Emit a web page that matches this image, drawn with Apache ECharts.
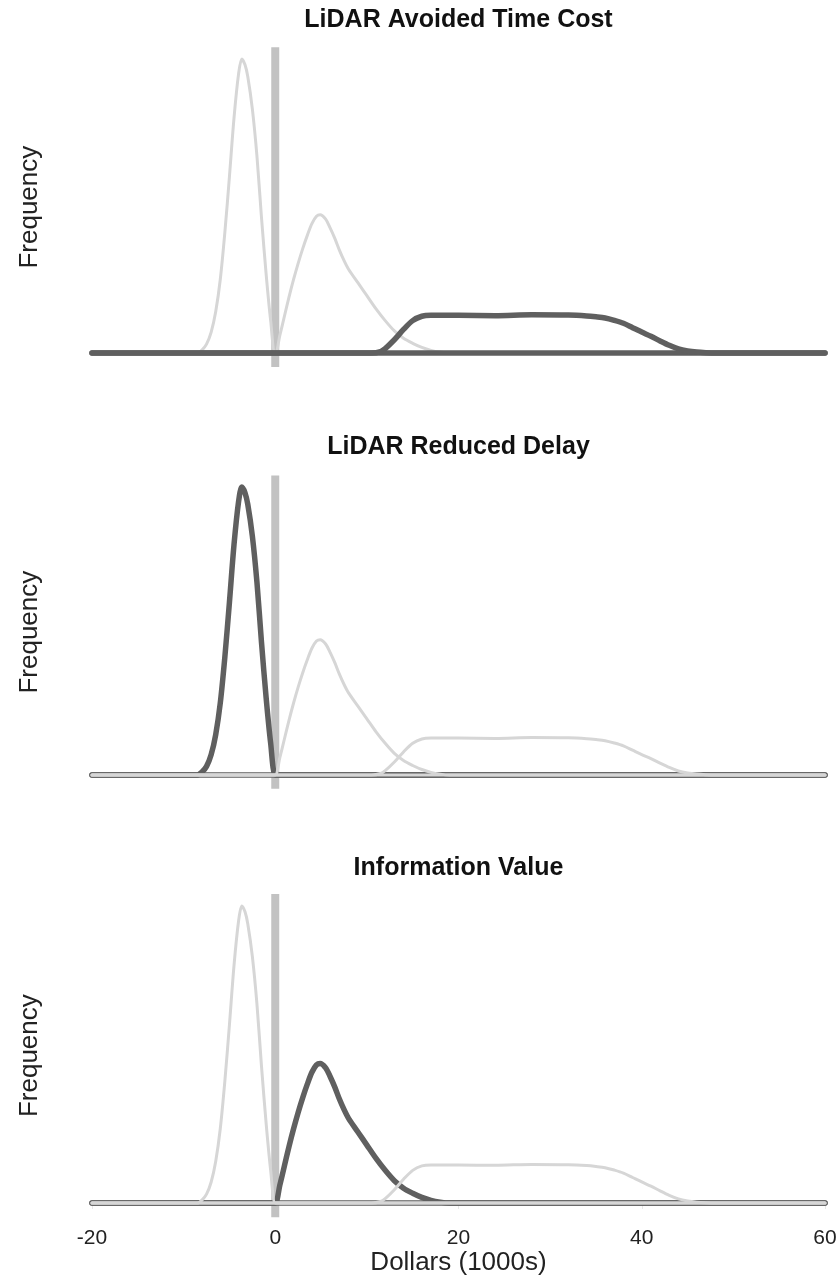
<!DOCTYPE html>
<html>
<head>
<meta charset="utf-8">
<script src="https://cdn.jsdelivr.net/npm/echarts@6/dist/echarts.min.js"></script>
<style>html,body{margin:0;padding:0;background:#fff;}#c{width:840px;height:1284px;}</style>
</head>
<body>
<div id="c"></div>
<script>
// ---- data ----
const titles = ["LiDAR Avoided Time Cost", "LiDAR Reduced Delay", "Information Value"];
const xTickLabels = [-20, 0, 20, 40, 60];
const xAxisName = "Dollars (1000s)";
const yAxisName = "Frequency";
// narrow peak below zero
const narrowX = [-20, -10, -9, -8.5, -8, -7.5, -7, -6.5, -6, -5.5, -5, -4.5, -4, -3.65, -3.3, -3, -2.5, -2, -1.5, -1, -0.5, 0, 0.5, 1, 60];
const narrowY = [0, 0, 0, 0, 1, 3, 7, 14, 25, 41, 60, 80, 95, 100, 98, 94, 83, 67, 46, 27, 11, 0, 0, 0, 0];
// right-skewed peak above zero
const skewX = [-20, -1, -0.5, 0, 0.5, 1, 1.5, 2, 2.5, 3, 3.5, 4, 4.5, 4.9, 5.5, 6, 6.5, 7, 7.5, 8, 9, 10, 11, 12, 13, 14, 15, 16, 17, 18, 19, 20, 21, 60];
const skewY = [0, 0, 0, 0, 6, 12.5, 19, 25, 30.5, 35.5, 40, 44, 46.5, 47, 45.5, 42.5, 39, 35, 31.5, 28.5, 24, 19.5, 15, 11, 7.5, 5, 3.3, 1.9, 0.9, 0.3, 0, 0, 0, 0];
// broad plateau
const plateauX = [-20, 9, 10, 10.5, 11.5, 12, 13, 14, 15, 16, 17, 20, 24, 28, 32, 34, 35, 36, 37, 38, 39, 40, 41, 42, 43, 44, 45, 46, 47, 48, 49, 50, 60];
const plateauY = [0, 0, 0, 0, 0.5, 1.5, 4.5, 8, 11, 12.5, 12.8, 12.8, 12.7, 13.0, 12.9, 12.6, 12.3, 11.9, 11.1, 10.1, 8.6, 7.1, 5.7, 4.1, 2.6, 1.4, 0.7, 0.3, 0.1, 0, 0, 0, 0];
// which distribution is highlighted in each panel
const highlighted = ["plateau", "narrow", "skew"];
const zeroLineX = [0, 0];
const zeroLineY = [-4.8, 104];
const baselineX = [-20, 60];
const baselineY = [0, 0];

// ---- layout ----
const panels = [
  {top: 47.2, bottom: 367.1, titleY: 20},
  {top: 475.5, bottom: 788.8, titleY: 447},
  {top: 894, bottom: 1217.3, titleY: 868}
];
const LIGHT = "#d6d6d6", DARK = "#5f5f5f", ZERO = "#c2c2c2";
const FONT = "'Liberation Sans', Arial, sans-serif";

const dists = {
  narrow: narrowX.map((x, i) => [x, narrowY[i]]),
  skew: skewX.map((x, i) => [x, skewY[i]]),
  plateau: plateauX.map((x, i) => [x, plateauY[i]])
};
const baseData = baselineX.map((x, i) => [x, baselineY[i]]);

function lineSeries(k, data, color, width, z) {
  return {
    type: 'line', xAxisIndex: k, yAxisIndex: k, symbol: 'none', silent: true,
    smooth: 0.3, z: z, data: data,
    lineStyle: {color: color, width: width, cap: 'round', join: 'round'}
  };
}

const grids = [], xAxes = [], yAxes = [], series = [], graphics = [];
panels.forEach((p, k) => {
  grids.push({left: 92, right: 15, top: p.top, height: p.bottom - p.top});
  const last = k === panels.length - 1;
  xAxes.push({
    type: 'value', gridIndex: k, min: -20, max: 60, interval: 20,
    axisLine: {show: false},
    axisTick: {show: last, length: 6, lineStyle: {color: '#e8e8e8'}},
    splitLine: {show: false},
    axisLabel: {show: last, margin: 10, fontSize: 21, color: '#222', fontFamily: FONT,
      formatter: v => xTickLabels.includes(v) ? String(v) : ''},
    name: last ? xAxisName : '', nameLocation: 'middle', nameGap: 33,
    nameTextStyle: {fontSize: 26, color: '#222', fontFamily: FONT}
  });
  yAxes.push({
    type: 'value', gridIndex: k, min: -4.8, max: 104,
    axisLine: {show: false}, axisTick: {show: false}, axisLabel: {show: false}, splitLine: {show: false},
    name: yAxisName, nameLocation: 'middle', nameGap: 49,
    nameTextStyle: {fontSize: 26, color: '#222', fontFamily: FONT}
  });
  series.push({
    type: 'line', xAxisIndex: k, yAxisIndex: k, symbol: 'none', silent: true, z: 1,
    data: zeroLineX.map((x, i) => [x, zeroLineY[i]]),
    lineStyle: {color: ZERO, width: 8, cap: 'butt'}
  });
  const dark = highlighted[k];
  const lights = ['narrow', 'skew', 'plateau'].filter(d => d !== dark);
  if (k === 0) {
    lights.forEach((d, j) => series.push(lineSeries(k, dists[d], LIGHT, 3, 2 + j)));
    series.push(lineSeries(k, baseData, DARK, 5.5, 5));
    series.push(lineSeries(k, dists[dark], DARK, 5.5, 6));
  } else {
    series.push(lineSeries(k, baseData, DARK, 5.5, 2));
    series.push(lineSeries(k, dists[dark], DARK, 5.5, 3));
    series.push(lineSeries(k, baseData, LIGHT, 3, 4));
    lights.forEach((d, j) => series.push(lineSeries(k, dists[d], LIGHT, 3, 5 + j)));
  }
  graphics.push({
    type: 'text', x: 458.5, y: p.titleY,
    style: {text: titles[k], textAlign: 'center', textVerticalAlign: 'middle',
      font: "bold 25px " + FONT, fill: '#111'}
  });
});

const chart = echarts.init(document.getElementById('c'), null, {renderer: 'canvas'});
chart.setOption({
  animation: false,
  backgroundColor: '#fff',
  grid: grids, xAxis: xAxes, yAxis: yAxes, series: series, graphic: graphics
});
</script>
</body>
</html>
